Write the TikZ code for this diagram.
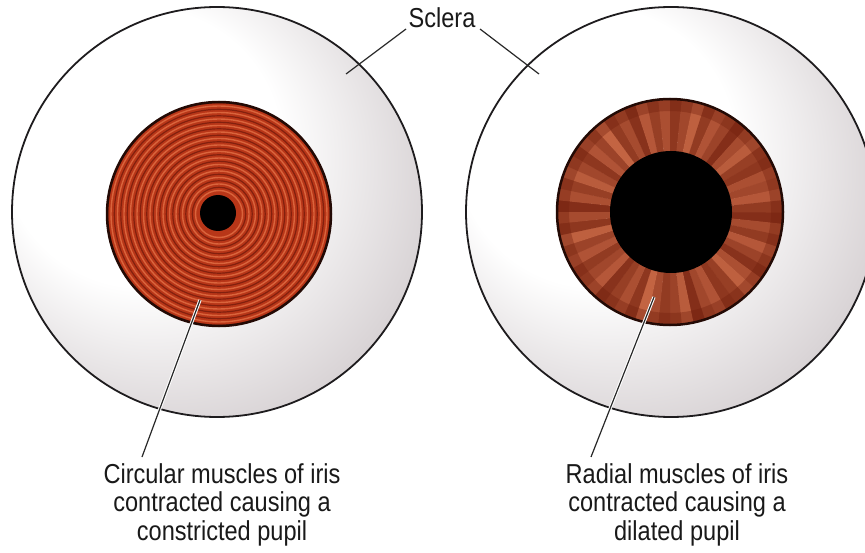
\documentclass[tikz,border=0pt]{standalone}
\usepackage{fontspec}
\newfontfamily\lab[FakeStretch=0.86]{Liberation Sans}

\definecolor{eyeline}{RGB}{30,28,30}
\definecolor{sclmid}{RGB}{218,213,215}
\definecolor{scldark}{RGB}{176,168,172}
\definecolor{sclrim}{RGB}{160,152,156}
\definecolor{irisbase}{RGB}{184,54,24}
\definecolor{irislight}{RGB}{218,100,60}
\definecolor{irisdark}{RGB}{130,32,14}
\definecolor{irisrim}{RGB}{35,10,5}
\definecolor{rdark}{RGB}{112,30,12}
\definecolor{rlight}{RGB}{210,112,76}
\definecolor{leadgray}{RGB}{40,40,40}

% white of the eye: bright towards the upper left, greyer towards the rim
\pgfdeclareradialshading{sclerashade}{\pgfpoint{-14bp}{12bp}}{%
  color(0bp)=(white); color(17bp)=(white); color(31bp)=(sclmid);
  color(44bp)=(scldark); color(50bp)=(sclrim)}

\tikzset{
  eyeball/.style={shading=sclerashade, draw=eyeline, line width=1.8bp},
  rim/.style={draw=irisrim, line width=2.5bp},
  leader/.style={draw=leadgray, line width=1.2bp},
  haloleader/.style={leader, preaction={draw=white, line width=3.2bp}},
  label/.style={font=\lab\fontsize{27.5}{28.6}\selectfont, text=black!90,
    align=center, inner sep=0pt},
}

\begin{document}
\begin{tikzpicture}[x=1bp, y=-1bp]
\useasboundingbox (0,0) rectangle (865,553);
\fill[white] (0,0) rectangle (865,553);
\clip (0,0) rectangle (865,553);

% ---------- left eye: constricted pupil, circular muscles ----------
\shade[eyeball] (217,212) circle[radius=205];
\fill[irisbase] (219,214) circle[radius=112];
\foreach \r in {23.5,30,...,108} {
  \draw[irislight, line width=1.4bp] (219,214) circle[radius=\r];
  \draw[irisdark, line width=1.2bp] (219,214) circle[radius=\r+3.2];
}
\draw[rim] (219,214) circle[radius=112];
\fill[black] (218,213) circle[radius=18];

% ---------- right eye: dilated pupil, radial muscles ----------
\shade[eyeball] (671,212) circle[radius=205];
\foreach \m [count=\i from 0] in {20,55,35,70,45,25,60,80,40,30,65,50,20,75,45,
    35,55,85,30,60,40,25,70,50,35,65,45,80,30,55,20,60,40,75,50,30,65,45,85,35,
    55,25,70,40,60,30,50,80,35,65,45,20,55,75,40,30,60,50,70,35} {
  \pgfmathsetmacro\a{\i*6}
  \fill[rlight!\m!rdark] (670,212) -- +(\a:113.5)
    arc[start angle=\a, end angle=\a+6.3, radius=113.5] -- cycle;
}
\fill[rdark, opacity=0.35, even odd rule]
  (670,212) circle[radius=113] (670,212) circle[radius=101];
\draw[rim] (670,212) circle[radius=113];
\fill[black] (671,212) circle[radius=61];

% ---------- labels ----------
\node[label, anchor=base] (sclera) at (442,28) {Sclera};
\coordinate (sclL) at (346,74);
\coordinate (sclR) at (539,74);
\coordinate (sclLtop) at (406,29);
\coordinate (sclRtop) at (480,29);
\draw[leader] (sclLtop) -- (sclL);
\draw[leader] (sclRtop) -- (sclR);

\node[label, anchor=north] (circ) at (222,463)
  {Circular muscles of iris\\contracted causing a\\constricted pupil};
\node[label, anchor=north] (rad) at (677,463)
  {Radial muscles of iris\\contracted causing a\\dilated pupil};

\coordinate (circpin) at (200,300);
\coordinate (circfoot) at (142,457);
\coordinate (radpin) at (654,297);
\coordinate (radfoot) at (591,457);
\draw[haloleader] (circpin) -- (circfoot);
\draw[haloleader] (radpin) -- (radfoot);
\end{tikzpicture}
\end{document}
